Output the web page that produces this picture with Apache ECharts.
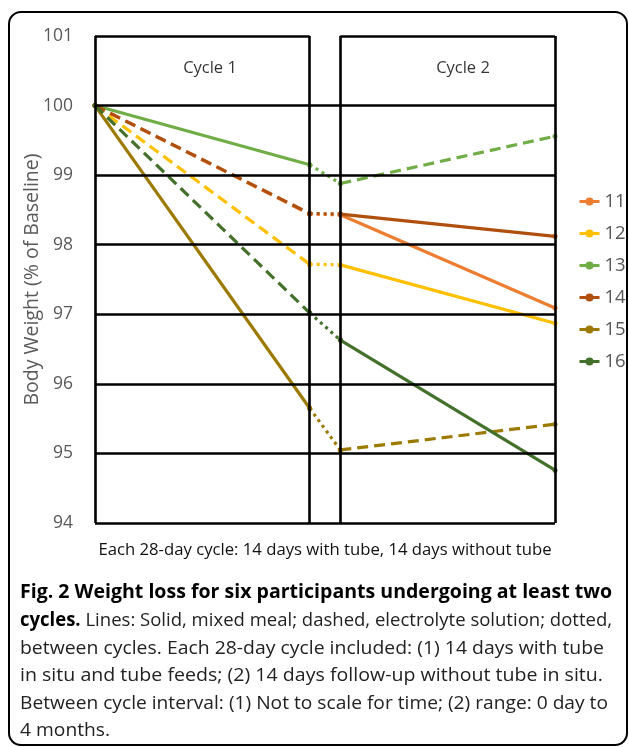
<!DOCTYPE html>
<html>
<head>
<meta charset="utf-8">
<script src="https://cdn.jsdelivr.net/npm/echarts@6/dist/echarts.min.js"></script>
<style>
html,body{margin:0;padding:0;background:#fff;}
#c{width:629px;height:747px;}
</style>
</head>
<body>
<div id="c"></div>
<script>
// ---- data ----
// x positions: start, end of cycle 1, start of cycle 2, end of cycle 2 (between-cycle gap not to scale)
const xPoints = [0, 28, 32, 60];
const participants = ['11', '12', '13', '14', '15', '16'];
const p11 = [100, 98.44, 98.43, 97.09];
const p12 = [100, 97.72, 97.71, 96.87];
const p13 = [100, 99.15, 98.88, 99.56];
const p14 = [100, 98.45, 98.44, 98.12];
const p15 = [100, 95.65, 95.05, 95.42];
const p16 = [100, 97.02, 96.63, 94.76];
// segment types: [cycle 1, between cycles, cycle 2]
const seg11 = ['dashed', 'dotted', 'solid'];
const seg12 = ['dashed', 'dotted', 'solid'];
const seg13 = ['solid', 'dotted', 'dashed'];
const seg14 = ['dashed', 'dotted', 'solid'];
const seg15 = ['solid', 'dotted', 'dashed'];
const seg16 = ['dashed', 'dotted', 'solid'];
const yTicks = [94, 95, 96, 97, 98, 99, 100, 101];
const cycleLabels = ['Cycle 1', 'Cycle 2'];
const cycleLabelPos = [[15, 100.53], [48, 100.53]];
const xAxisTitle = 'Each 28-day cycle: 14 days with tube, 14 days without tube';
const yAxisTitle = 'Body Weight (% of Baseline)';

// ---- styles ----
const colors = {'11': '#ED7D31', '12': '#FFC000', '13': '#70AD47', '14': '#B0500F', '15': '#9C7A00', '16': '#43702B'};
const dashMap = {solid: 'solid', dashed: [11, 6], dotted: [3, 4]};
const values = {'11': p11, '12': p12, '13': p13, '14': p14, '15': p15, '16': p16};
const segs = {'11': seg11, '12': seg12, '13': seg13, '14': seg14, '15': seg15, '16': seg16};

const chart = echarts.init(document.getElementById('c'), null, {renderer: 'canvas'});

// grid frame lines through markLine (data coordinates)
const yMin = yTicks[0], yMax = yTicks[yTicks.length - 1];
const frame = [];
yTicks.forEach(v => {
  if (v === yMax) {
    frame.push([{coord: [xPoints[0], v]}, {coord: [xPoints[1], v]}]);
    frame.push([{coord: [xPoints[2], v]}, {coord: [xPoints[3], v]}]);
  } else {
    frame.push([{coord: [xPoints[0], v]}, {coord: [xPoints[3], v]}]);
  }
});
xPoints.forEach(x => frame.push([{coord: [x, yMin]}, {coord: [x, yMax]}]));

const series = [{
  type: 'line', name: '__frame', data: [[xPoints[0], yMin]], showSymbol: false,
  lineStyle: {opacity: 0}, silent: true, z: 1, animation: false,
  markLine: {
    silent: true, symbol: ['none', 'none'], animation: false,
    label: {show: false},
    lineStyle: {color: '#000', width: 2.6, type: 'solid'},
    emphasis: {disabled: true},
    data: frame
  }
}];

participants.forEach(p => {
  const v = values[p];
  for (let s = 0; s < 3; s++) {
    series.push({
      type: 'line', name: p, z: 3, animation: false,
      data: [[xPoints[s], v[s]], [xPoints[s + 1], v[s + 1]]],
      symbol: 'circle', symbolSize: 5, showSymbol: true,
      itemStyle: {color: colors[p]},
      lineStyle: {color: colors[p], width: 3.2, type: dashMap[segs[p][s]], cap: 'butt'},
      emphasis: {disabled: true}
    });
  }
});

series.push({
  type: 'scatter', name: '__labels', symbolSize: 0, z: 4, silent: true, animation: false,
  data: cycleLabelPos.map((c, i) => [c[0], c[1], cycleLabels[i]]),
  label: {show: true, position: 'inside', formatter: d => d.value[2],
          fontFamily: 'Open Sans', fontSize: 16.5, color: '#000'}
});

// caption
const captionLines = [
  {parts: [['b', 'Fig. 2 Weight loss for six participants undergoing at least two']], w: 592},
  {parts: [['b', 'cycles.'], ['n', ' Lines: Solid, mixed meal; dashed, electrolyte solution; dotted,']], w: 592},
  {parts: [['n', 'between cycles. Each 28-day cycle included: (1) 14 days with tube']], w: 584},
  {parts: [['n', 'in situ and tube feeds; (2) 14 days follow-up without tube in situ.']], w: 583},
  {parts: [['n', 'Between cycle interval: (1) Not to scale for time; (2) range: 0 day to']], w: 588},
  {parts: [['n', '4 months.']], w: null}
];
const capFont = 'Open Sans', capSize = 19;
const ctx = document.createElement('canvas').getContext('2d');
function measure(parts) {
  let w = 0;
  parts.forEach(([k, t]) => {
    ctx.font = (k === 'b' ? 'bold ' : '') + capSize + 'px "' + capFont + '"';
    w += ctx.measureText(t).width;
  });
  return w;
}
let scales = captionLines.map(l => l.w ? l.w / measure(l.parts) : null);
const known = scales.filter(s => s);
const avgScale = known.reduce((a, b) => a + b, 0) / known.length;
scales = scales.map(s => s || avgScale);
const capY0 = 593, capDy = 27.6;
const graphics = [{
  type: 'rect', silent: true, z: 0,
  shape: {x: 9, y: 12, width: 618, height: 733, r: 12},
  style: {fill: 'none', stroke: '#000', lineWidth: 2}
}];
captionLines.forEach((l, i) => {
  graphics.push({
    type: 'text', x: 20, y: capY0 + i * capDy, scaleX: scales[i], silent: true,
    style: {
      text: l.parts.map(([k, t]) => '{' + k + '|' + t + '}').join(''),
      verticalAlign: 'middle', align: 'left',
      rich: {
        b: {fontFamily: capFont, fontSize: capSize, fontWeight: 'bold', fill: '#000'},
        n: {fontFamily: capFont, fontSize: capSize, fontWeight: 'normal', fill: '#222'}
      }
    }
  });
});

chart.setOption({
  backgroundColor: '#fff',
  animation: false,
  grid: {left: 95, right: 74, top: 36, bottom: 224},
  xAxis: {
    type: 'value', min: xPoints[0], max: xPoints[3],
    axisLine: {show: false}, axisTick: {show: false}, axisLabel: {show: false},
    splitLine: {show: false},
    name: xAxisTitle, nameLocation: 'middle', nameGap: 19, nameMoveOverlap: false,
    nameTextStyle: {fontFamily: 'Open Sans', fontSize: 16.7, color: '#111'}
  },
  yAxis: {
    type: 'value', min: yMin, max: yMax, interval: 1,
    axisLine: {show: false}, axisTick: {show: false}, splitLine: {show: false},
    axisLabel: {fontFamily: 'Open Sans', fontSize: 17.5, color: '#595959', margin: 22},
    name: yAxisTitle, nameLocation: 'middle', nameGap: 53, nameMoveOverlap: false,
    nameTextStyle: {fontFamily: 'Open Sans', fontSize: 19.5, color: '#595959'}
  },
  legend: {
    orient: 'vertical', left: 578, top: 192, padding: 0,
    data: participants,
    itemWidth: 20, itemHeight: 10, itemGap: 13,
    textStyle: {fontFamily: 'Open Sans', fontSize: 18.5, color: '#595959'},
    lineStyle: {type: 'solid', width: 3},
    selectedMode: false
  },
  series: series,
  graphic: graphics
});
</script>
</body>
</html>
